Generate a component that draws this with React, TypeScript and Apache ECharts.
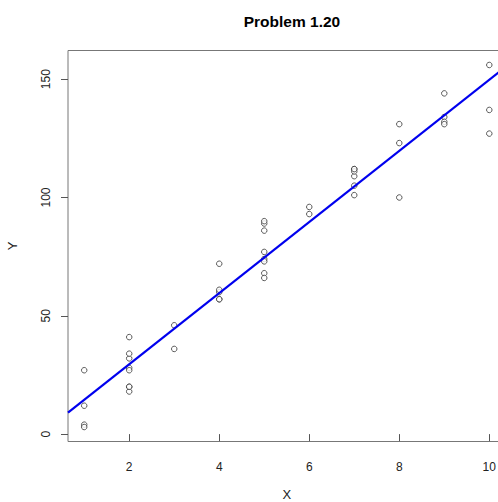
import React, { useEffect, useRef } from "react";
import * as echarts from "echarts";

const xValues = [2, 4, 3, 2, 1, 10, 5, 5, 1, 2, 9, 10, 6, 3, 4, 8, 7, 8, 10, 4, 5, 7, 7, 5, 9, 7, 2, 5, 7, 6, 8, 5, 2, 2, 1, 4, 5, 9, 7, 1, 9, 2, 2, 4, 5];
const yValues = [20, 60, 46, 41, 12, 137, 68, 89, 4, 32, 144, 156, 93, 36, 72, 100, 105, 131, 127, 57, 66, 101, 109, 74, 134, 112, 18, 73, 111, 96, 123, 90, 20, 28, 3, 57, 86, 132, 112, 27, 131, 34, 27, 61, 77];
const xTicks = [2, 4, 6, 8, 10];
const yTicks = [0, 50, 100, 150];
const lineIntercept = -0.58;
const lineSlope = 15.035;
const xRange = [0.64, 10.36];
const yRange = [-3.12, 162.12];

export default function App() {
  const ref = useRef<HTMLDivElement>(null);
  useEffect(() => {
    if (!ref.current) return;
    const chart = echarts.init(ref.current, null, { renderer: "svg" });
    const font = "Liberation Sans, Arial, sans-serif";
    const pts = xValues.map((x, i) => [x, yValues[i]]);
    const linePts = xRange.map((x) => [x, lineIntercept + lineSlope * x]);
    chart.setOption({
      animation: false,
      backgroundColor: "#ffffff",
      title: {
        text: "Problem 1.20",
        left: 287,
        top: 8,
        textAlign: "center",
        textStyle: { fontFamily: font, fontSize: 15.5, fontWeight: "bold", color: "#000" },
      },
      grid: {
        left: 68,
        top: 50.5,
        width: 437.5,
        height: 391,
        outerBoundsMode: "none",
        containLabel: false,
        show: true,
        borderColor: "#777",
        borderWidth: 1,
        backgroundColor: "transparent",
      },
      xAxis: {
        type: "value",
        min: xRange[0],
        max: xRange[1],
        name: "X",
        nameLocation: "middle",
        nameGap: 46,
        nameTextStyle: { fontFamily: font, fontSize: 13, color: "#222" },
        splitLine: { show: false },
        axisLine: { show: false },
        axisTick: { show: true, length: 7, customValues: xTicks, lineStyle: { color: "#555" } },
        axisLabel: { customValues: xTicks, margin: 19, fontFamily: font, fontSize: 12, color: "#222" },
      },
      yAxis: {
        type: "value",
        min: yRange[0],
        max: yRange[1],
        name: "Y",
        nameLocation: "middle",
        nameRotate: 90,
        nameGap: 49,
        nameTextStyle: { fontFamily: font, fontSize: 13, color: "#222" },
        splitLine: { show: false },
        axisLine: { show: false },
        axisTick: { show: true, length: 7, customValues: yTicks, lineStyle: { color: "#555" } },
        axisLabel: { customValues: yTicks, rotate: 90, margin: 16, fontFamily: font, fontSize: 12, color: "#222" },
      },
      series: [
        {
          type: "scatter",
          data: pts,
          symbol: "circle",
          symbolSize: 5.5,
          itemStyle: { color: "#fff", borderColor: "#333", borderWidth: 1 },
          z: 3,
        },
        {
          type: "line",
          data: linePts,
          showSymbol: false,
          symbol: "none",
          lineStyle: { color: "#0000ee", width: 2.2 },
          z: 4,
        },
      ],
    });
    return () => chart.dispose();
  }, []);
  return (
    <div style={{ position: "fixed", left: 0, top: 0, width: 498, height: 502, overflow: "hidden" }}>
      <div ref={ref} style={{ width: 510, height: 502 }} />
    </div>
  );
}
